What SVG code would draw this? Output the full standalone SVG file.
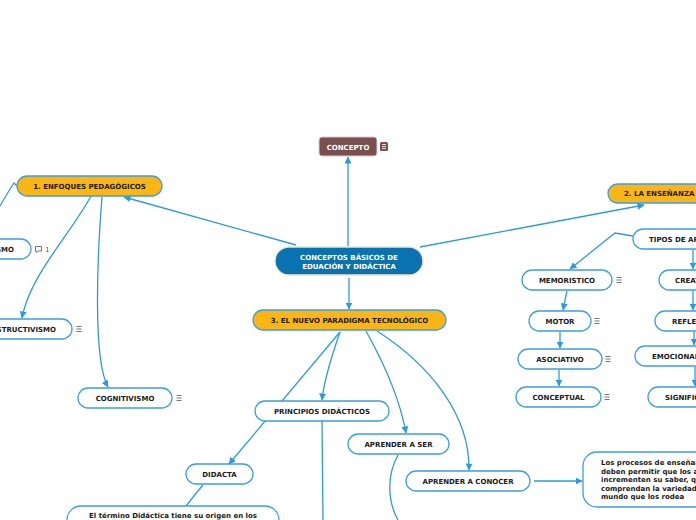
<svg xmlns="http://www.w3.org/2000/svg" width="696" height="520" viewBox="0 0 696 520">
<defs>
<style>
.c{fill:none;stroke:#2b9ae0;stroke-width:1.3}
.a{marker-end:url(#ah)}
.n{fill:#ffffff;stroke:#3a9fe2;stroke-width:1.3}
.o{fill:#fbb515;stroke:#3a9fe2;stroke-width:1.3}
.t{font-family:"DejaVu Sans",Verdana,sans-serif;font-weight:bold;font-size:7px;fill:#1a1a1a}
.m{text-anchor:middle}
.w{fill:#ffffff}
.ic{fill:none;stroke:#666;stroke-width:0.9}
</style>
<marker id="ah" viewBox="0 0 7 7" refX="6.5" refY="3.5" markerWidth="7" markerHeight="7" markerUnits="userSpaceOnUse" orient="auto">
<path d="M0,0 L7,3.5 L0,7 z" fill="#2b9ae0"/>
</marker>
</defs>
<rect width="696" height="520" fill="#ffffff"/>
<g id="connectors">
<path class="c a" d="M348,246 L348,157"/>
<path class="c a" d="M349,278 L349,309"/>
<path class="c a" d="M296,245 L124,197"/>
<path class="c a" d="M420,247 L644,205"/>
<path class="c" d="M17,186 L14,183 Q8,192 0,206"/>
<path class="c a" d="M91,196 C70,235 30,275 22,318"/>
<path class="c a" d="M102,197 C97,260 93,360 108,387"/>
<path class="c a" d="M633,236 L615,233 L570,269"/>
<path class="c a" d="M567,291 L563,310"/>
<path class="c a" d="M560,332 L560,348"/>
<path class="c a" d="M559,370 L559,386"/>
<path class="c a" d="M693,250 L693,269"/>
<path class="c a" d="M693,291 L693,310"/>
<path class="c a" d="M694,332 L694,345"/>
<path class="c a" d="M695,367 L695,386"/>
<path class="c a" d="M340,332 L229,464"/>
<path class="c a" d="M340,332 C332,355 324,380 322,400"/>
<path class="c a" d="M366,331 C385,365 400,400 406,433"/>
<path class="c a" d="M377,331 C430,365 470,415 469,470"/>
<path class="c" d="M322,421 L323,520"/>
<path class="c" d="M398,455 C387,475 387,500 398,520"/>
<path class="c a" d="M534,481 L582,481"/>
<path class="c" d="M203,485 C196,493 191,500 186,506"/>
</g>
<g id="concepto">
<rect x="319" y="137" width="58" height="19" rx="3" fill="#7a4f4f" stroke="#d8cccc" stroke-width="1"/>
<text class="t m w" x="348" y="149.5">CONCEPTO</text>
<rect x="380" y="142" width="8" height="9" rx="1.5" fill="#7a4f4f"/>
<path d="M382,144.5 h4 M382,146.5 h4 M382,148.5 h4" stroke="#ffffff" stroke-width="0.8"/>
</g>
<g id="central">
<rect x="275" y="247" width="148" height="28" rx="14" fill="#0a72b0" stroke="#efe5c2" stroke-width="1.3"/>
<text class="t m w" x="349" y="260">CONCEPTOS BÁSICOS DE</text>
<text class="t m w" x="349" y="268.5">EDUACIÓN Y DIDÁCTICA</text>
</g>
<g id="enfoques">
<rect class="o" x="17" y="176" width="145" height="20" rx="10"/>
<text class="t m" x="89.5" y="188.5">1. ENFOQUES PEDAGÓGICOS</text>
</g>
<g id="paradigma">
<rect class="o" x="253" y="310" width="193" height="20" rx="10"/>
<text class="t m" x="349.5" y="322.5">3. EL NUEVO PARADIGMA TECNOLÓGICO</text>
</g>
<g id="ensenanza">
<rect class="o" x="608" y="184" width="130" height="19" rx="9.5"/>
<text class="t" x="624" y="196">2. LA ENSEÑANZA</text>
</g>
<g id="conductismo">
<rect class="n" x="-40" y="239" width="71" height="20" rx="10"/>
<text class="t" x="14" y="251.5" text-anchor="end">CONDUCTISMO</text>
<path class="ic" d="M35.5,246.5 h6 v4.5 h-3.5 l-2,1.5 v-1.5 h-0.5 z"/>
<text x="45" y="252" font-family="DejaVu Sans,sans-serif" font-size="7" fill="#555">1</text>
</g>
<g id="constructivismo">
<rect class="n" x="-40" y="319" width="112" height="20" rx="10"/>
<text class="t" x="56" y="331.5" text-anchor="end">CONSTRUCTIVISMO</text>
<path class="ic" d="M76.5,326.5 h5 M76.5,329 h5 M76.5,331.5 h5"/>
</g>
<g id="cognitivismo">
<rect class="n" x="78" y="388" width="94" height="20" rx="10"/>
<text class="t m" x="125" y="400.5">COGNITIVISMO</text>
<path class="ic" d="M176.5,395.5 h5 M176.5,398 h5 M176.5,400.5 h5"/>
</g>
<g id="tipos">
<rect class="n" x="633" y="229" width="130" height="20" rx="10"/>
<text class="t" x="649" y="241.5">TIPOS DE APRENDIZAJE</text>
</g>
<g id="memoristico">
<rect class="n" x="522" y="270" width="90" height="20" rx="10"/>
<text class="t m" x="567" y="282.5">MEMORISTICO</text>
<path class="ic" d="M616.5,277.5 h5 M616.5,280 h5 M616.5,282.5 h5"/>
</g>
<g id="motor">
<rect class="n" x="529" y="311" width="62" height="20" rx="10"/>
<text class="t m" x="560" y="323.5">MOTOR</text>
<path class="ic" d="M594.5,318.5 h5 M594.5,321 h5 M594.5,323.5 h5"/>
</g>
<g id="asociativo">
<rect class="n" x="518" y="349" width="84" height="20" rx="10"/>
<text class="t m" x="560" y="361.5">ASOCIATIVO</text>
<path class="ic" d="M605.5,356.5 h5 M605.5,359 h5 M605.5,361.5 h5"/>
</g>
<g id="conceptual">
<rect class="n" x="516" y="387" width="85" height="20" rx="10"/>
<text class="t m" x="558.5" y="399.5">CONCEPTUAL</text>
<path class="ic" d="M604.5,394.5 h5 M604.5,397 h5 M604.5,399.5 h5"/>
</g>
<g id="creativo">
<rect class="n" x="659" y="270" width="80" height="20" rx="10"/>
<text class="t" x="675" y="282.5">CREATIVO</text>
</g>
<g id="reflexivo">
<rect class="n" x="655" y="311" width="80" height="20" rx="10"/>
<text class="t" x="672" y="323.5">REFLEXIVO</text>
</g>
<g id="emocional">
<rect class="n" x="635" y="346" width="90" height="20" rx="10"/>
<text class="t" x="652" y="358.5">EMOCIONAL</text>
</g>
<g id="significativo">
<rect class="n" x="648" y="387" width="100" height="20" rx="10"/>
<text class="t" x="665" y="399.5">SIGNIFICATIVO</text>
</g>
<g id="principios">
<rect class="n" x="255" y="401" width="134" height="20" rx="10"/>
<text class="t m" x="322" y="413.5">PRINCIPIOS DIDÁCTICOS</text>
</g>
<g id="aprender-ser">
<rect class="n" x="348" y="434" width="101" height="20" rx="10"/>
<text class="t m" x="398.5" y="446.5">APRENDER A SER</text>
</g>
<g id="aprender-conocer">
<rect class="n" x="406" y="471" width="124" height="20" rx="10"/>
<text class="t m" x="468" y="483.5">APRENDER A CONOCER</text>
</g>
<g id="procesos">
<rect class="n" x="583" y="452" width="150" height="55" rx="14"/>
<text class="t" x="601" y="465">Los procesos de enseñanza</text>
<text class="t" x="601" y="473.5">deben permitir que los alumnos</text>
<text class="t" x="601" y="482">incrementen su saber, que</text>
<text class="t" x="601" y="490.5">comprendan la variedad del</text>
<text class="t" x="601" y="499">mundo que los rodea</text>
</g>
<g id="didacta">
<rect class="n" x="186" y="464" width="67" height="20" rx="10"/>
<text class="t m" x="219.5" y="476.5">DIDACTA</text>
</g>
<g id="termino">
<rect class="n" x="67" y="506" width="212" height="40" rx="14"/>
<text class="t m" x="173" y="518">El término Didáctica tiene su origen en los</text>
</g>
</svg>
